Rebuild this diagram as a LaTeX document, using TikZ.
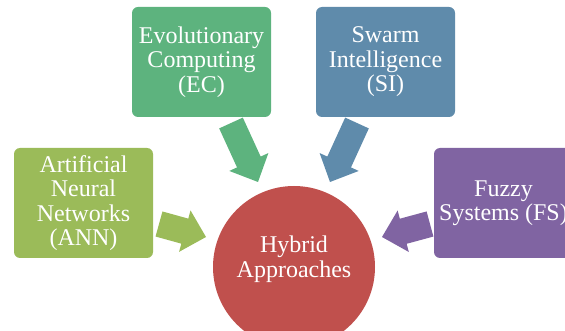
\documentclass[tikz,border=0pt]{standalone}
\usepackage{fontspec}
\setmainfont{Liberation Serif}
\usetikzlibrary{calc}
\definecolor{cann}{HTML}{9BBB59}
\definecolor{cec}{HTML}{5DB37E}
\definecolor{csi}{HTML}{5F8BAB}
\definecolor{cfs}{HTML}{8064A2}
\definecolor{chyb}{HTML}{C0504D}
\newcommand\blockarr[3]{%
  \coordinate (#2h) at ($(#2)!22pt!(#1)$);
  \fill[#3] ($(#1)!13pt!90:(#2)$) -- ($(#2h)!13pt!90:(#2)$) -- ($(#2h)!21.5pt!90:(#2)$)
    -- (#2) -- ($(#2h)!21.5pt!-90:(#2)$) -- ($(#2h)!13pt!-90:(#2)$) -- ($(#1)!13pt!-90:(#2)$) -- cycle;}
\begin{document}
\begin{tikzpicture}[x=1pt,y=-1pt,
  box/.style={rectangle,rounded corners=6pt,minimum width=139pt,minimum height=110pt,
    inner sep=0pt,text=white,align=center,font=\fontsize{24}{24.5}\selectfont},
  hub/.style={circle,minimum size=162pt,inner sep=0pt,fill=chyb,text=white,align=center,
    font=\fontsize{24}{24.5}\selectfont}]
\useasboundingbox (0,0) rectangle (565,331);
\begin{scope}
\clip (0,0) rectangle (565,331);
\node[box,fill=cann] (ann) at (83.5,203) {Artificial\\Neural\\Networks\\(ANN)};
\node[box,fill=cec] (ec) at (201.5,62) {Evolutionary\\Computing\\(EC)};
\node[box,fill=csi] (si) at (385.5,62) {Swarm\\Intelligence\\(SI)};
\node[box,fill=cfs] (fs) at (503.5,203) {Fuzzy\\Systems (FS)};
\node[hub] (hyb) at (294,267) {};
\node[text=white,align=center,font=\fontsize{24}{24.5}\selectfont] (hybt) at (294,259) {Hybrid\\Approaches};
\coordinate (annT) at (159,224); \coordinate (annP) at (206,237);
\coordinate (ecT) at (231,123); \coordinate (ecP) at (258,182);
\coordinate (siT) at (357,123); \coordinate (siP) at (330,182);
\coordinate (fsT) at (430,224); \coordinate (fsP) at (382,237);
\blockarr{annT}{annP}{cann}
\blockarr{ecT}{ecP}{cec}
\blockarr{siT}{siP}{csi}
\blockarr{fsT}{fsP}{cfs}
\end{scope}
\end{tikzpicture}
\end{document}
